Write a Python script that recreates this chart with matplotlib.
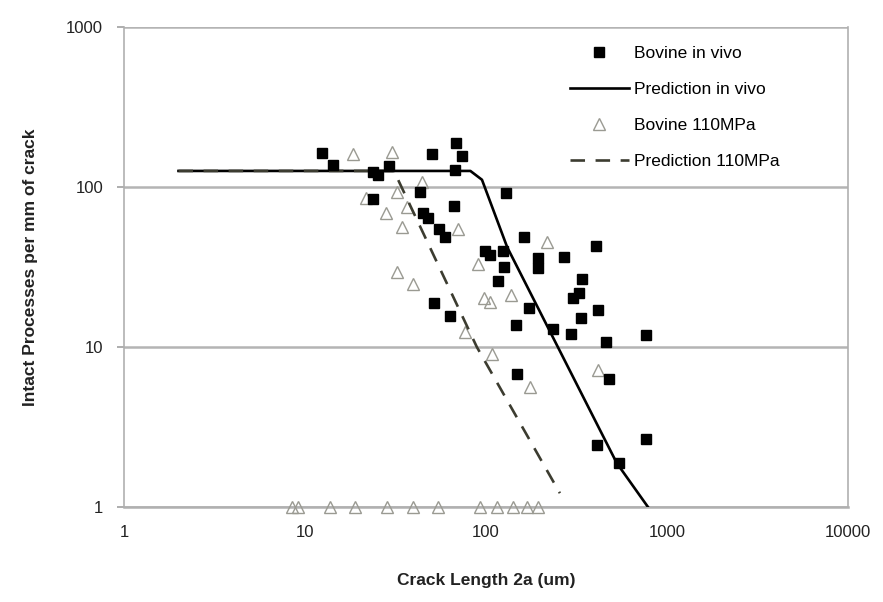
import numpy as np
import matplotlib
matplotlib.use('Agg')
import matplotlib.pyplot as plt

plt.rcParams['font.family'] = ['Liberation Sans', 'DejaVu Sans']

# Bovine in vivo (crack length um, intact processes per mm)
vivo_x = [12.4, 14.3, 23.8, 25.3, 29.1, 23.8, 43.2, 44.9, 47.8, 55, 59.4, 50.3,
          66.5, 68, 74, 67, 51.6, 63, 129, 98.7, 105, 124, 162, 194, 194, 126,
          116, 270, 405, 339, 302, 326, 173, 147, 235, 295, 416, 335, 460, 765,
          148, 478, 410, 765, 543]
vivo_y = [163, 137, 124, 119, 135, 84, 93, 69, 64, 55, 48.7, 161,
          76, 188, 156, 128, 18.8, 15.6, 92, 40, 37.6, 40, 48.7, 36, 31, 31.6,
          26, 36.5, 42.8, 26.6, 20.2, 21.8, 17.5, 13.7, 13, 12, 17, 15.2, 10.7, 11.9,
          6.8, 6.3, 2.44, 2.66, 1.88]

# Bovine 110MPa
mpa_x = [18.4, 30.2, 21.7, 28, 32.2, 34.3, 36.6, 44.3, 32.2, 39.5, 70, 90,
         97.5, 105, 137, 217, 76.6, 108, 175, 416,
         8.5, 9.2, 13.7, 18.9, 28.4, 39.5, 54.3, 92.7, 115, 141, 169, 194]
mpa_y = [161, 165, 85, 69, 93, 56, 75, 107, 29.4, 24.8, 54.6, 33,
         20.2, 19.1, 21.1, 45, 12.4, 9.0, 5.6, 7.2,
         1, 1, 1, 1, 1, 1, 1, 1, 1, 1, 1, 1]

# prediction curves
pred_vivo_x = [2, 82, 95, 131, 528, 785]
pred_vivo_y = [126, 126, 111, 42, 1.88, 1.0]
pred_mpa_x = [2, 31, 89, 256]
pred_mpa_y = [126, 126, 10, 1.22]

fig = plt.figure(figsize=(8.83, 6.02), dpi=100)
ax = fig.add_axes([124 / 883, 1 - 507 / 602, 724 / 883, 480 / 602])

ax.plot(vivo_x, vivo_y, 's', color='black', ms=7.5, label='Bovine in vivo', zorder=4)
ax.plot(pred_vivo_x, pred_vivo_y, '-', color='black', lw=1.9, label='Prediction in vivo', zorder=3)
ax.plot(mpa_x, mpa_y, '^', mfc='none', mec='#9a9a92', mew=1.0, ms=8.5,
        label='Bovine 110MPa', zorder=3, clip_on=False)
ax.plot(pred_mpa_x, pred_mpa_y, '--', color='#3c3c30', lw=1.9, dashes=(5.5, 4),
        label='Prediction 110MPa', zorder=3)

ax.set_xscale('log')
ax.set_yscale('log')
ax.set_xlim(1, 10000)
ax.set_ylim(1, 1000)
ax.set_xticks([1, 10, 100, 1000, 10000])
ax.set_xticklabels(['1', '10', '100', '1000', '10000'])
ax.set_yticks([1, 10, 100, 1000])
ax.set_yticklabels(['1', '10', '100', '1000'])
ax.minorticks_off()
ax.tick_params(labelsize=12, colors='#a0a0a0', labelcolor='#222222', length=5, width=1.2, pad=10)
ax.tick_params(axis='x', length=0, pad=13)

ax.grid(True, axis='y', color='#b4b4b4', lw=1.8)
ax.set_axisbelow(True)
for s in ax.spines.values():
    s.set_color('#b0b0b0')
    s.set_linewidth(1.2)
ax.spines['bottom'].set_linewidth(1.8)
ax.spines['top'].set_visible(False)

ax.set_xlabel('Crack Length 2a (um)', fontsize=12.5, fontweight='bold', color='#222222', labelpad=24)
ax.set_ylabel('Intact Processes per mm of crack', fontsize=12.5, fontweight='bold', color='#222222', labelpad=20)

ax.legend(loc='upper left', bbox_to_anchor=(0.616, 0.96), frameon=False, fontsize=12.5,
          handlelength=3.4, handletextpad=0.3, labelspacing=1.2, borderpad=0, borderaxespad=0)

fig.savefig('out.png', dpi=100)
